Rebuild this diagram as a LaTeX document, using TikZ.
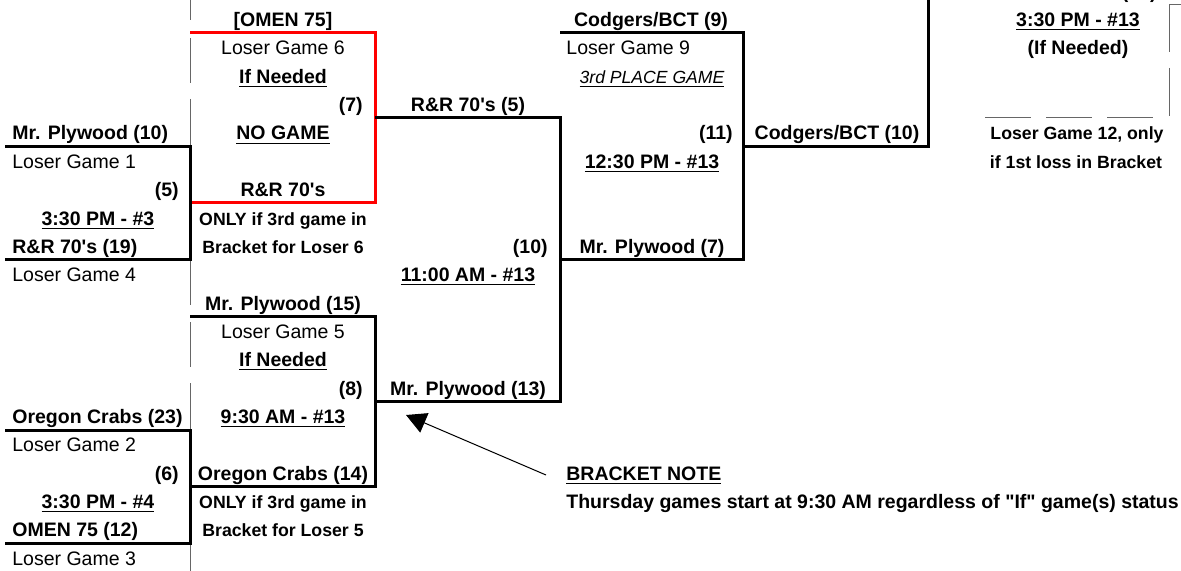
\documentclass[tikz,border=0pt]{standalone}
\usepackage{fontspec}
\setmainfont{Liberation Sans}
\usetikzlibrary{arrows.meta}

\begin{document}
\begin{tikzpicture}[x=0.5pt, y=-0.5pt,
    every node/.style={inner sep=0pt, font=\fontsize{9.75}{11}\selectfont},
    team/.style={font=\fontsize{9.75}{11}\selectfont\bfseries},
    hint/.style={font=\fontsize{8.85}{10}\selectfont\bfseries},
    note/.style={font=\fontsize{8.8}{10}\selectfont\itshape},
    bline/.style={line width=1.5pt},
    redline/.style={line width=1.5pt, red},
    cellline/.style={line width=0.5pt, black!60}]
    \useasboundingbox (0,0) rectangle (1181,571);

    % Cell borders
    \foreach \ya/\yb in {0/20, 38/83, 99/305, 322/367, 383/571}
        \draw[cellline] (190,\ya) -- (190,\yb);
    \foreach \ya/\yb in {5/52, 68/116}
        \draw[cellline] (1169,\ya) -- (1169,\yb);
    \draw[cellline] (1169,4.75) -- (1181,4.75);
    \foreach \xa/\xb in {985/1031, 1046/1092, 1107/1153}
        \draw[cellline] (\xa,117.5) -- (\xb,117.5);

    % Define the bracket corners
    \coordinate (g5a) at (5,146.5);
    \coordinate (g5b) at (190,146.5);
    \coordinate (g5c) at (190,260);
    \coordinate (g5d) at (5,260);
    \coordinate (g6a) at (5,430);
    \coordinate (g6b) at (190,430);
    \coordinate (g6c) at (190,543.4);
    \coordinate (g6d) at (5,543.4);
    \coordinate (g7a) at (190,33);
    \coordinate (g7b) at (375,33);
    \coordinate (g7c) at (375,203);
    \coordinate (g7d) at (190,203);
    \coordinate (g7out) at (375,118);
    \coordinate (g8a) at (190,316.6);
    \coordinate (g8b) at (375,316.6);
    \coordinate (g8c) at (375,486.7);
    \coordinate (g8d) at (190,486.7);
    \coordinate (g8out) at (375,401.6);
    \coordinate (g10a) at (560,118);
    \coordinate (g10b) at (560,401.6);
    \coordinate (g10out) at (560,260);
    \coordinate (g11a) at (560,33);
    \coordinate (g11b) at (743,33);
    \coordinate (g11c) at (743,260);
    \coordinate (g11out) at (743,146.5);
    \coordinate (g12a) at (928,146.5);
    \coordinate (g12top) at (928,-10);

    % Draw the brackets
    \draw[redline] (g7a) -- (g7b) -- (g7c) -- (g7d);
    \draw[bline] (g5a) -- (g5b) -- (g5c) -- (g5d);
    \draw[bline] (g6a) -- (g6b) -- (g6c) -- (g6d);
    \draw[bline] (g8a) -- (g8b) -- (g8c) -- (g8d);
    \draw[bline] (g7out) -- (g10a) -- (g10b) -- (g8out);
    \draw[bline] (g11a) -- (g11b) -- (g11c) -- (g10out);
    \draw[bline] (g11out) -- (g12a) -- (g12top);

    % First round, left column
    \node[team, anchor=base west] (t10) at (12,140) {Mr. Plywood (10)};
    \node[anchor=base west] (l1) at (12,168.35) {Loser Game 1};
    \node[team, anchor=base east] (n5) at (179,196.7) {(5)};
    \node[team, anchor=base] (s5) at (98,225.05) {\underline{3:30 PM - \#3}};
    \node[team, anchor=base west] (t19) at (12,253.4) {R\&R 70\textquotesingle s (19)};
    \node[anchor=base west] (l4) at (12,281.75) {Loser Game 4};
    \node[team, anchor=base west] (t23) at (12,423.5) {Oregon Crabs (23)};
    \node[anchor=base west] (l2) at (12,451.85) {Loser Game 2};
    \node[team, anchor=base east] (n6) at (179,480.2) {(6)};
    \node[team, anchor=base] (s6) at (98,508.55) {\underline{3:30 PM - \#4}};
    \node[team, anchor=base west] (t12) at (12,536.9) {OMEN 75 (12)};
    \node[anchor=base west] (l3) at (12,565.25) {Loser Game 3};

    % Second column
    \node[team, anchor=base] (omen) at (283,26.6) {[OMEN 75]};
    \node[anchor=base] (l6) at (283,54.95) {Loser Game 6};
    \node[team, anchor=base] (if7) at (283,83.3) {\underline{If Needed}};
    \node[team, anchor=base east] (n7) at (363,111.65) {(7)};
    \node[team, anchor=base] (nogame) at (283,140) {\underline{NO GAME}};
    \node[team, anchor=base] (rr) at (283,196.7) {R\&R 70\textquotesingle s};
    \node[hint, anchor=base] (only6a) at (283,225.05) {ONLY if 3rd game in};
    \node[hint, anchor=base] (only6b) at (283,253.4) {Bracket for Loser 6};
    \node[team, anchor=base] (t15) at (283,310.1) {Mr. Plywood (15)};
    \node[anchor=base] (l5) at (283,338.45) {Loser Game 5};
    \node[team, anchor=base] (if8) at (283,366.8) {\underline{If Needed}};
    \node[team, anchor=base east] (n8) at (363,395.15) {(8)};
    \node[team, anchor=base] (s8) at (283,423.5) {\underline{9:30 AM - \#13}};
    \node[team, anchor=base] (t14) at (283,480.2) {Oregon Crabs (14)};
    \node[hint, anchor=base] (only5a) at (283,508.55) {ONLY if 3rd game in};
    \node[hint, anchor=base] (only5b) at (283,536.9) {Bracket for Loser 5};

    % Third column
    \node[team, anchor=base] (t5) at (468,111.65) {R\&R 70\textquotesingle s (5)};
    \node[team, anchor=base east] (n10) at (548,253.4) {(10)};
    \node[team, anchor=base] (s10) at (468,281.75) {\underline{11:00 AM - \#13}};
    \node[team, anchor=base] (t13) at (468,395.15) {Mr. Plywood (13)};

    % Fourth column
    \node[team, anchor=base] (t9) at (651,26.6) {Codgers/BCT (9)};
    \node[anchor=base west] (l9) at (566,54.95) {Loser Game 9};
    \node[note, anchor=base] (third) at (652,83.3) {\underline{3rd PLACE GAME}};
    \node[team, anchor=base east] (n11) at (733,140) {(11)};
    \node[team, anchor=base] (s11) at (652,168.35) {\underline{12:30 PM - \#13}};
    \node[team, anchor=base] (t7) at (652,253.4) {Mr. Plywood (7)};

    % Fifth and sixth column
    \node[team, anchor=base] (t10b) at (837,140) {Codgers/BCT (10)};
    \node[team, anchor=base east] (n12) at (1157,-1.75) {(12)};
    \node[team, anchor=base] (s12) at (1078,26.6) {\underline{3:30 PM - \#13}};
    \node[team, anchor=base] (if12) at (1078,54.95) {(If Needed)};
    \node[hint, anchor=base] (l12a) at (1077,140) {Loser Game 12, only};
    \node[hint, anchor=base] (l12b) at (1076,168.35) {if 1st loss in Bracket};

    % Bracket note
    \node[team, anchor=base west] (notehead) at (566,480.2) {\underline{BRACKET NOTE}};
    \node[team, anchor=base west] (notetext) at (566,508.55)
        {Thursday games start at 9:30 AM regardless of \textquotedbl If\textquotedbl\ game(s) status};
    \coordinate (notetail) at (546,475);
    \coordinate (notetip) at (406,415);
    \draw[line width=0.5pt, -{Triangle[length=10pt, width=10.5pt]}] (notetail) -- (notetip);
\end{tikzpicture}
\end{document}
